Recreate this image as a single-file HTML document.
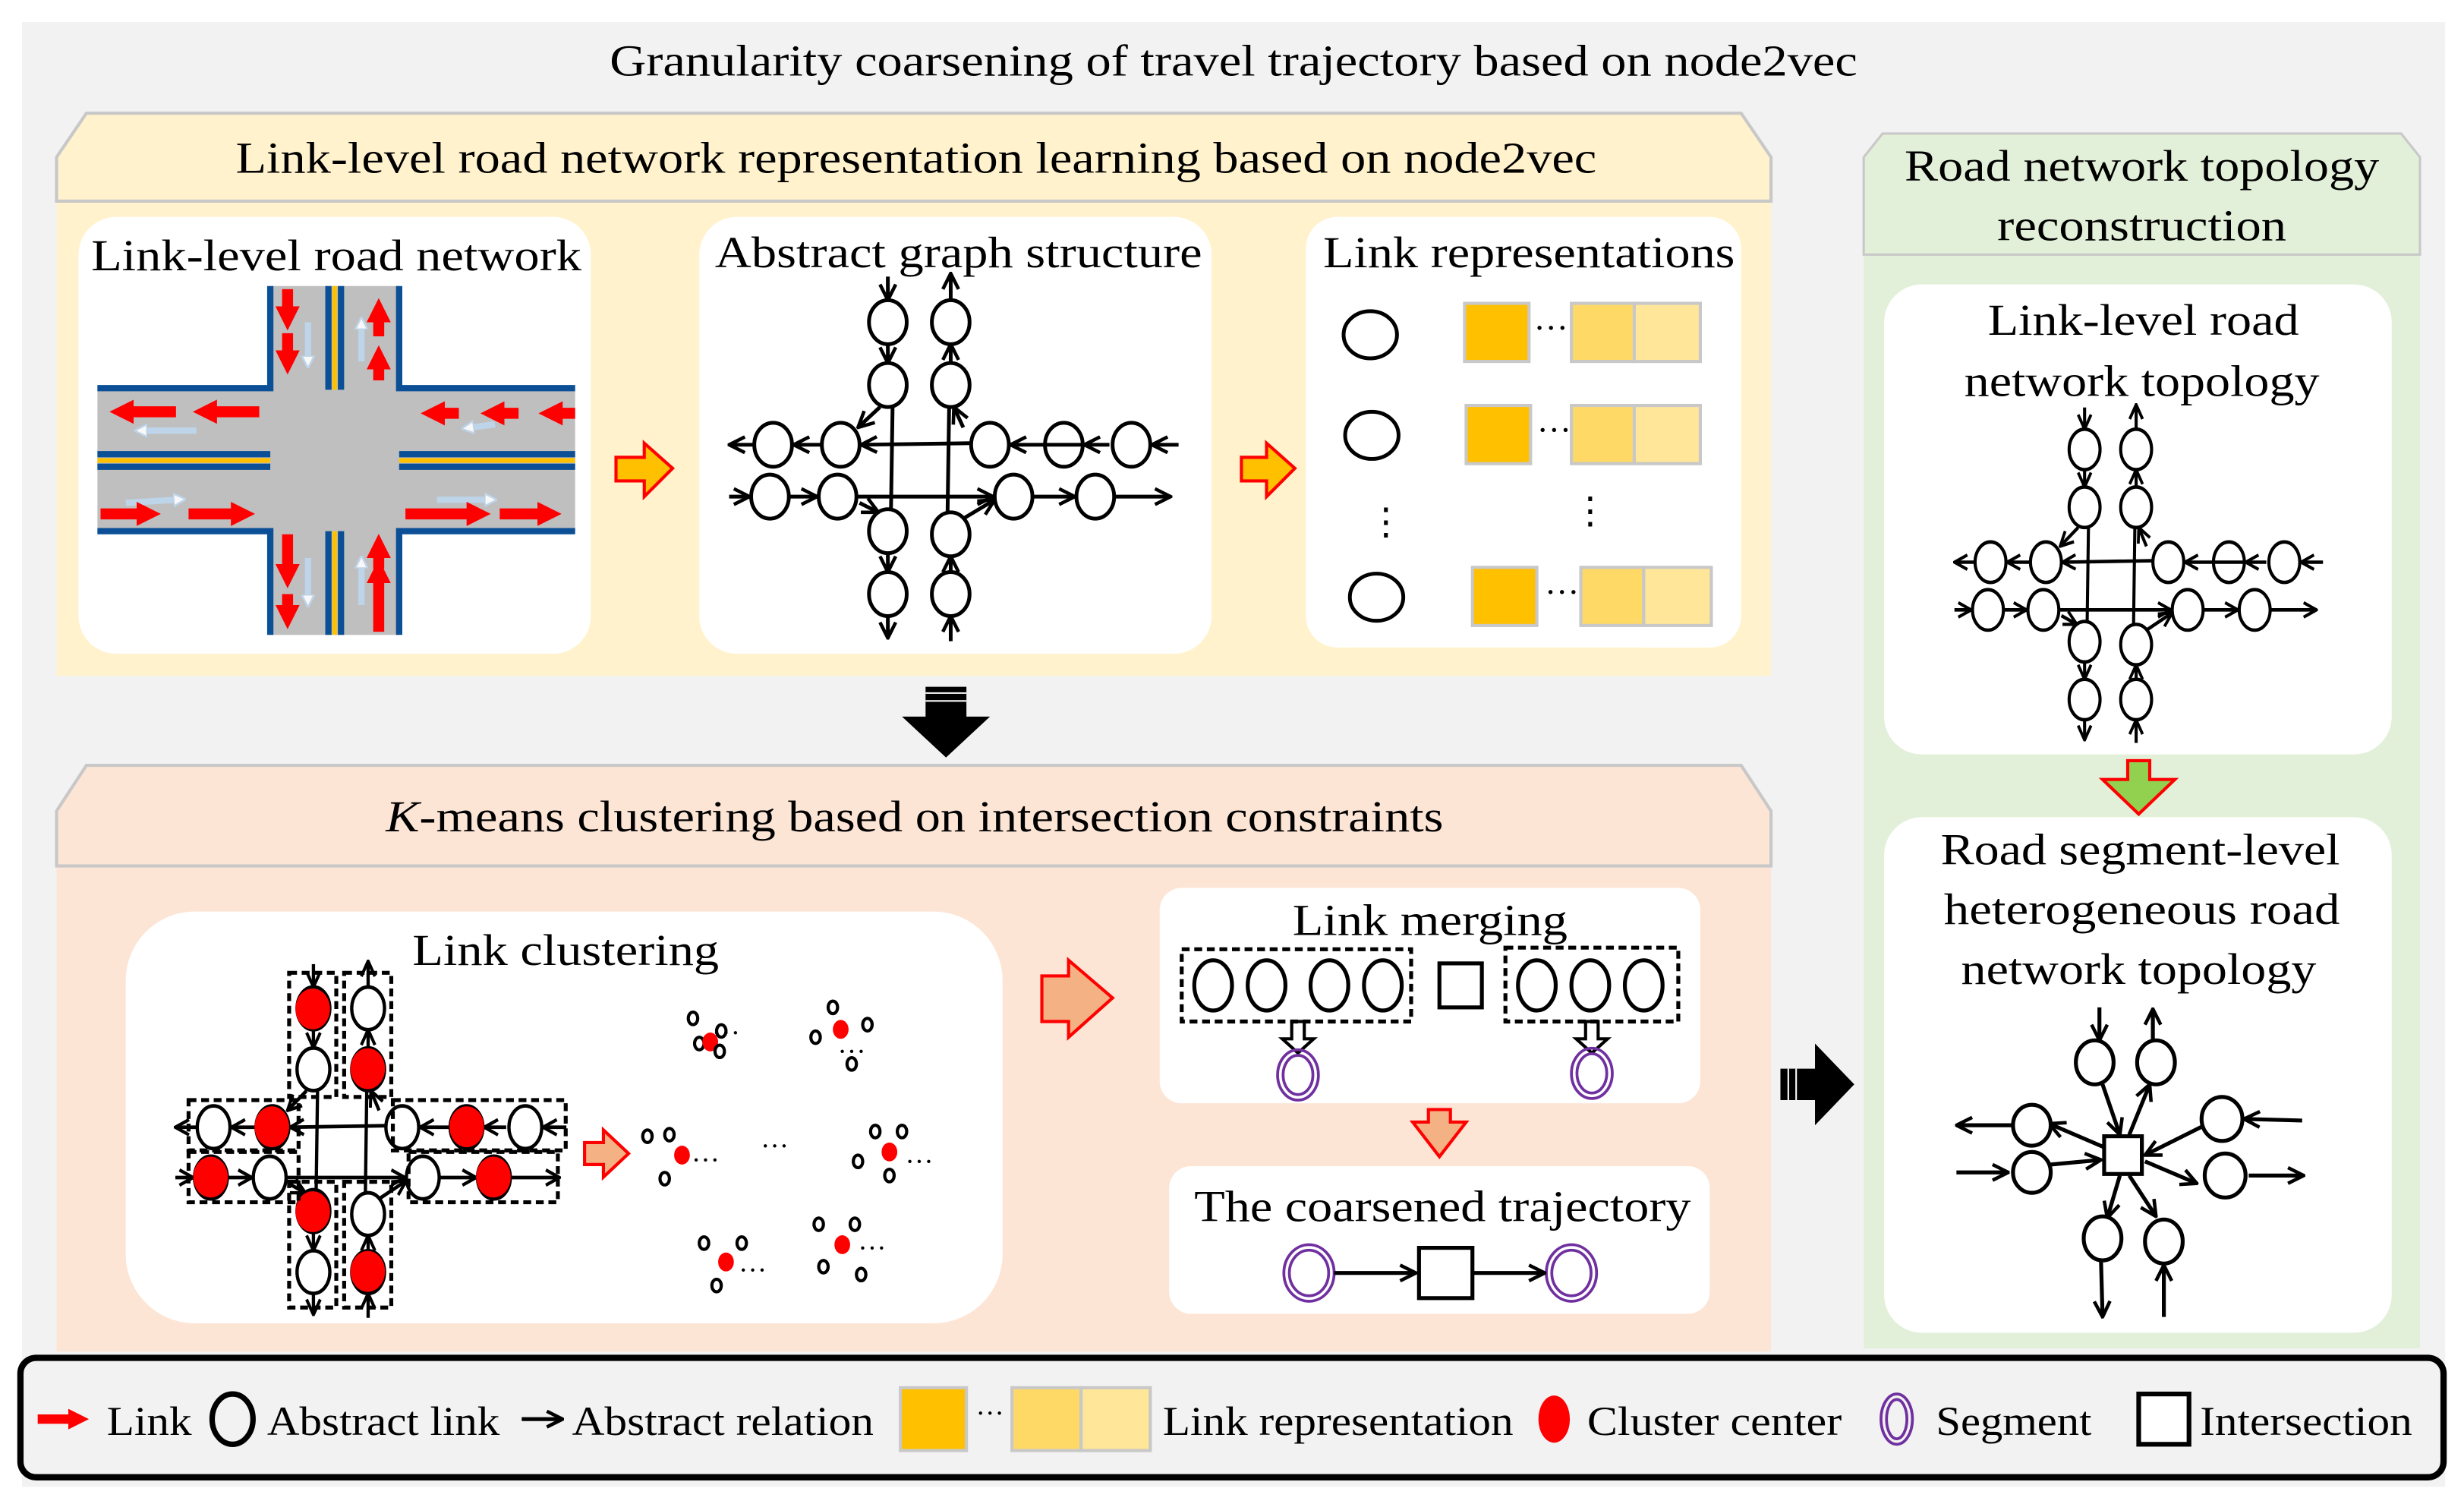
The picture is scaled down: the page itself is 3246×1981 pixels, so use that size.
<!DOCTYPE html>
<html><head><meta charset="utf-8"><style>
html,body{margin:0;padding:0;background:#fff;}
svg{display:block;}
text{font-family:"Liberation Serif",serif;fill:#000;}
</style></head><body>
<svg xmlns="http://www.w3.org/2000/svg" width="3246" height="1981" viewBox="0 0 1568 957" preserveAspectRatio="none">
<defs>
<marker id="oa" viewBox="0 0 12 12" refX="11" refY="6" markerWidth="12" markerHeight="12" markerUnits="userSpaceOnUse" orient="auto"><path d="M1,1 L11,6 L1,11" fill="none" stroke="#000" stroke-width="2.2"/></marker>
<marker id="ra" viewBox="0 0 10 10" refX="2" refY="5" markerWidth="2.2" markerHeight="2.6" orient="auto"><path d="M0,0 L10,5 L0,10 z" fill="#f00"/></marker>
<marker id="wa" viewBox="0 0 10 10" refX="2" refY="5" markerWidth="2" markerHeight="2.4" orient="auto"><path d="M0,0 L10,5 L0,10 z" fill="#fff" stroke="#bdd7ee" stroke-width="1.5"/></marker>
<g id="graph" fill="none" stroke="#000" stroke-width="2.4">
 <g fill="#fff">
 <ellipse cx="565" cy="205" rx="12" ry="14"/><ellipse cx="565" cy="245" rx="12" ry="14"/>
 <ellipse cx="605" cy="205" rx="12" ry="14"/><ellipse cx="605" cy="245" rx="12" ry="14"/>
 <ellipse cx="492" cy="283" rx="12" ry="14"/><ellipse cx="535" cy="283" rx="12" ry="14"/>
 <ellipse cx="630" cy="283" rx="12" ry="14"/><ellipse cx="677" cy="283" rx="12" ry="14"/><ellipse cx="720" cy="283" rx="12" ry="14"/>
 <ellipse cx="490" cy="316" rx="12" ry="14"/><ellipse cx="533" cy="316" rx="12" ry="14"/>
 <ellipse cx="645" cy="316" rx="12" ry="14"/><ellipse cx="697" cy="316" rx="12" ry="14"/>
 <ellipse cx="565" cy="338" rx="12" ry="14"/><ellipse cx="565" cy="378" rx="12" ry="14"/>
 <ellipse cx="605" cy="340" rx="12" ry="14"/><ellipse cx="605" cy="378" rx="12" ry="14"/>
 </g>
 <line x1="565" y1="176" x2="565" y2="191" marker-end="url(#oa)"/>
 <line x1="565" y1="219" x2="565" y2="231" marker-end="url(#oa)"/>
 <line x1="605" y1="231" x2="605" y2="219" marker-end="url(#oa)"/>
 <line x1="605" y1="191" x2="605" y2="174" marker-end="url(#oa)"/>
 <line x1="560" y1="259" x2="546" y2="272" marker-end="url(#oa)"/>
 <line x1="568" y1="259" x2="567" y2="324"/>
 <line x1="604" y1="259" x2="603" y2="326"/>
 <line x1="613" y1="272" x2="607" y2="259" marker-end="url(#oa)"/>
 <line x1="479" y1="283" x2="464" y2="283" marker-end="url(#oa)"/>
 <line x1="522" y1="283" x2="505" y2="283" marker-end="url(#oa)"/>
 <line x1="617" y1="282" x2="548" y2="283" marker-end="url(#oa)"/>
 <line x1="750" y1="283" x2="733" y2="283" marker-end="url(#oa)"/>
 <line x1="664" y1="283" x2="690" y2="283" marker-start="none"/>
 <line x1="706" y1="283" x2="690" y2="283" marker-end="url(#oa)"/>
 <line x1="664" y1="283" x2="643" y2="283" marker-end="url(#oa)"/>
 <line x1="464" y1="316" x2="477" y2="316" marker-end="url(#oa)"/>
 <line x1="503" y1="316" x2="520" y2="316" marker-end="url(#oa)"/>
 <line x1="546" y1="316" x2="632" y2="316" marker-end="url(#oa)"/>
 <line x1="658" y1="316" x2="684" y2="316" marker-end="url(#oa)"/>
 <line x1="710" y1="316" x2="745" y2="316" marker-end="url(#oa)"/>
 <line x1="547" y1="320" x2="559" y2="326" marker-end="url(#oa)"/>
 <line x1="565" y1="352" x2="565" y2="364" marker-end="url(#oa)"/>
 <line x1="565" y1="392" x2="565" y2="406" marker-end="url(#oa)"/>
 <line x1="605" y1="364" x2="605" y2="354" marker-end="url(#oa)"/>
 <line x1="605" y1="408" x2="605" y2="392" marker-end="url(#oa)"/>
 <line x1="613" y1="330" x2="633" y2="318" marker-end="url(#oa)"/>
</g>
<g id="dots" fill="#fff" stroke="#000" stroke-width="2">
 <ellipse cx="0" cy="0" rx="3" ry="4"/><ellipse cx="18" cy="8" rx="3" ry="4"/><ellipse cx="4" cy="16" rx="3" ry="4"/>
</g>
</defs>

<!-- background -->
<rect x="14" y="14" width="1542" height="932" fill="#f2f2f2"/>
<text x="785" y="48" font-size="28" text-anchor="middle" textLength="794" lengthAdjust="spacingAndGlyphs">Granularity coarsening of travel trajectory based on node2vec</text>

<!-- yellow panel -->
<rect x="36" y="128" width="1091" height="302" fill="#fff2cc"/>
<polygon points="36,128 36,100 55,72 1108,72 1127,100 1127,128" fill="#fff2cc" stroke="#c8c8c8" stroke-width="2"/>
<text x="583" y="110" font-size="28" text-anchor="middle" textLength="866" lengthAdjust="spacingAndGlyphs">Link-level road network representation learning based on node2vec</text>
<rect x="50" y="138" width="326" height="278" rx="24" fill="#fff"/>
<rect x="445" y="138" width="326" height="278" rx="24" fill="#fff"/>
<rect x="831" y="138" width="277" height="274" rx="20" fill="#fff"/>
<text x="214" y="172" font-size="28" text-anchor="middle" textLength="312" lengthAdjust="spacingAndGlyphs">Link-level road network</text>
<text x="610" y="170" font-size="28" text-anchor="middle" textLength="310" lengthAdjust="spacingAndGlyphs">Abstract graph structure</text>
<text x="973" y="170" font-size="28" text-anchor="middle" textLength="262" lengthAdjust="spacingAndGlyphs">Link representations</text>

<!-- road network -->
<rect x="62" y="246" width="304" height="93" fill="#bfbfbf"/>
<rect x="172" y="182" width="82" height="222" fill="#bfbfbf"/>
<g stroke="#0b4f96" stroke-width="4" fill="none">
 <path d="M62,247 H172 V182"/><path d="M254,182 V247 H366"/>
 <path d="M62,338 H172 V404"/><path d="M254,404 V338 H366"/>
 <path d="M62,289 H172 M62,297 H172 M254,289 H366 M254,297 H366"/>
 <path d="M209,182 V248 M217,182 V248 M209,338 V404 M217,338 V404"/>
</g>
<g stroke="#ffc000" stroke-width="3">
 <path d="M62,293 H172 M254,293 H366 M213,182 V248 M213,338 V404"/>
</g>
<g stroke="#bdd7ee" stroke-width="4" fill="none" opacity="0.9">
 <line x1="125" y1="274" x2="92" y2="274" marker-end="url(#wa)"/>
 <line x1="315" y1="270" x2="300" y2="272" marker-end="url(#wa)"/>
 <line x1="80" y1="320" x2="112" y2="318" marker-end="url(#wa)"/>
 <line x1="278" y1="318" x2="310" y2="318" marker-end="url(#wa)"/>
 <line x1="196" y1="205" x2="196" y2="228" marker-end="url(#wa)"/>
 <line x1="230" y1="230" x2="230" y2="208" marker-end="url(#wa)"/>
 <line x1="196" y1="355" x2="196" y2="380" marker-end="url(#wa)"/>
 <line x1="230" y1="385" x2="230" y2="360" marker-end="url(#wa)"/>
</g>
<g stroke="#f00" stroke-width="7" fill="none">
 <line x1="112" y1="262" x2="82" y2="262" marker-end="url(#ra)"/>
 <line x1="165" y1="262" x2="135" y2="262" marker-end="url(#ra)"/>
 <line x1="366" y1="263" x2="355" y2="263" marker-end="url(#ra)"/>
 <line x1="330" y1="263" x2="318" y2="263" marker-end="url(#ra)"/>
 <line x1="292" y1="263" x2="280" y2="263" marker-end="url(#ra)"/>
 <line x1="64" y1="327" x2="90" y2="327" marker-end="url(#ra)"/>
 <line x1="120" y1="327" x2="150" y2="327" marker-end="url(#ra)"/>
 <line x1="258" y1="327" x2="300" y2="327" marker-end="url(#ra)"/>
 <line x1="318" y1="327" x2="345" y2="327" marker-end="url(#ra)"/>
 <line x1="183" y1="184" x2="183" y2="198" marker-end="url(#ra)"/>
 <line x1="183" y1="212" x2="183" y2="226" marker-end="url(#ra)"/>
 <line x1="241" y1="242" x2="241" y2="232" marker-end="url(#ra)"/>
 <line x1="241" y1="214" x2="241" y2="202" marker-end="url(#ra)"/>
 <line x1="183" y1="340" x2="183" y2="362" marker-end="url(#ra)"/>
 <line x1="183" y1="378" x2="183" y2="388" marker-end="url(#ra)"/>
 <line x1="241" y1="402" x2="241" y2="368" marker-end="url(#ra)"/>
 <line x1="241" y1="362" x2="241" y2="352" marker-end="url(#ra)"/>
</g>

<!-- abstract graph -->
<use href="#graph"/>

<!-- orange arrows in yellow -->
<polygon points="392,291 410,291 410,282 428,298 410,316 410,306 392,306" fill="#ffc000" stroke="#f00" stroke-width="2"/>
<polygon points="790,291 806,291 806,282 824,298 806,316 806,306 790,306" fill="#ffc000" stroke="#f00" stroke-width="2"/>

<!-- link representations -->
<g fill="#fff" stroke="#000" stroke-width="2.4">
 <ellipse cx="872" cy="213" rx="17" ry="15"/><ellipse cx="873" cy="277" rx="17" ry="15"/><ellipse cx="876" cy="380" rx="17" ry="15"/>
</g>
<g stroke="#c8c8c8" stroke-width="2">
 <rect x="932" y="193" width="41" height="37" fill="#ffc000"/><rect x="1000" y="193" width="40" height="37" fill="#ffd966"/><rect x="1040" y="193" width="42" height="37" fill="#ffe699"/>
 <rect x="933" y="258" width="41" height="37" fill="#ffc000"/><rect x="1000" y="258" width="40" height="37" fill="#ffd966"/><rect x="1040" y="258" width="42" height="37" fill="#ffe699"/>
 <rect x="937" y="361" width="41" height="37" fill="#ffc000"/><rect x="1006" y="361" width="40" height="37" fill="#ffd966"/><rect x="1046" y="361" width="43" height="37" fill="#ffe699"/>
</g>
<text x="976" y="216" font-size="22">···</text>
<text x="978" y="281" font-size="22">···</text>
<text x="983" y="384" font-size="22">···</text>
<text x="870" y="340" font-size="24">⋮</text>
<text x="1000" y="333" font-size="24">⋮</text>

<!-- black down arrow -->
<polygon points="589,437 615,437 615,456 630,456 602,482 574,456 589,456" fill="#000"/>
<line x1="589" y1="441" x2="615" y2="441" stroke="#fff" stroke-width="1"/>
<line x1="589" y1="446" x2="615" y2="446" stroke="#fff" stroke-width="1"/>

<!-- orange panel -->
<rect x="36" y="551" width="1091" height="309" fill="#fde5d6"/>
<polygon points="36,551 36,516 55,487 1108,487 1127,516 1127,551" fill="#fde5d6" stroke="#c8c8c8" stroke-width="2"/>
<text x="582" y="529" font-size="28" text-anchor="middle" textLength="673" lengthAdjust="spacingAndGlyphs"><tspan font-style="italic">K</tspan>-means clustering based on intersection constraints</text>
<rect x="80" y="580" width="558" height="262" rx="44" fill="#fff"/>
<rect x="738" y="565" width="344" height="137" rx="14" fill="#fff"/>
<rect x="744" y="742" width="344" height="94" rx="14" fill="#fff"/>
<text x="360" y="614" font-size="28" text-anchor="middle" textLength="195" lengthAdjust="spacingAndGlyphs">Link clustering</text>
<text x="910" y="595" font-size="28" text-anchor="middle" textLength="175" lengthAdjust="spacingAndGlyphs">Link merging</text>
<text x="918" y="777" font-size="28" text-anchor="middle" textLength="316" lengthAdjust="spacingAndGlyphs">The coarsened trajectory</text>

<!-- clustering graph -->
<g transform="translate(236,726) scale(0.87,0.97) translate(-607,-292)"><use href="#graph"/></g>
<g fill="#f00">
 <ellipse cx="199" cy="642" rx="11" ry="13"/><ellipse cx="234" cy="680" rx="11" ry="13"/>
 <ellipse cx="173" cy="717" rx="11" ry="13"/><ellipse cx="297" cy="717" rx="11" ry="13"/>
 <ellipse cx="134" cy="749" rx="11" ry="13"/><ellipse cx="314" cy="749" rx="11" ry="13"/>
 <ellipse cx="199" cy="771" rx="11" ry="13"/><ellipse cx="234" cy="809" rx="11" ry="13"/>
</g>
<g fill="none" stroke="#000" stroke-width="2.5" stroke-dasharray="5,3">
 <rect x="184" y="619" width="30" height="79"/><rect x="219" y="619" width="30" height="79"/>
 <rect x="120" y="700" width="70" height="32"/><rect x="250" y="700" width="110" height="32"/>
 <rect x="120" y="733" width="70" height="32"/><rect x="260" y="733" width="95" height="32"/>
 <rect x="184" y="752" width="30" height="80"/><rect x="219" y="752" width="30" height="80"/>
</g>
<polygon points="372,727 384,727 384,719 400,734 384,749 384,741 372,741" fill="#f4b183" stroke="#f00" stroke-width="2"/>
<!-- dot clusters -->
<use href="#dots" transform="translate(441,648)"/><ellipse cx="452" cy="663" rx="5" ry="6" fill="#f00"/><ellipse cx="458" cy="669" rx="3" ry="4" fill="#fff" stroke="#000" stroke-width="2"/><text x="453" y="663" font-size="18">···</text>
<g fill="#fff" stroke="#000" stroke-width="2"><ellipse cx="519" cy="660" rx="3" ry="4"/><ellipse cx="530" cy="641" rx="3" ry="4"/><ellipse cx="552" cy="652" rx="3" ry="4"/><ellipse cx="542" cy="677" rx="3" ry="4"/></g><ellipse cx="535" cy="655" rx="5" ry="6" fill="#f00"/><text x="533" y="675" font-size="18">···</text>
<g fill="#fff" stroke="#000" stroke-width="2"><ellipse cx="412" cy="723" rx="3" ry="4"/><ellipse cx="426" cy="722" rx="3" ry="4"/><ellipse cx="423" cy="750" rx="3" ry="4"/><ellipse cx="557" cy="720" rx="3" ry="4"/><ellipse cx="574" cy="720" rx="3" ry="4"/><ellipse cx="546" cy="739" rx="3" ry="4"/><ellipse cx="566" cy="748" rx="3" ry="4"/></g>
<ellipse cx="434" cy="735" rx="5" ry="6" fill="#f00"/><ellipse cx="566" cy="733" rx="5" ry="6" fill="#f00"/>
<text x="440" y="744" font-size="18">···</text><text x="484" y="735" font-size="18">···</text><text x="576" y="745" font-size="18">···</text>
<g fill="#fff" stroke="#000" stroke-width="2"><ellipse cx="448" cy="791" rx="3" ry="4"/><ellipse cx="472" cy="791" rx="3" ry="4"/><ellipse cx="456" cy="818" rx="3" ry="4"/><ellipse cx="521" cy="779" rx="3" ry="4"/><ellipse cx="544" cy="779" rx="3" ry="4"/><ellipse cx="524" cy="806" rx="3" ry="4"/><ellipse cx="548" cy="811" rx="3" ry="4"/></g>
<ellipse cx="462" cy="803" rx="5" ry="6" fill="#f00"/><ellipse cx="536" cy="792" rx="5" ry="6" fill="#f00"/>
<text x="470" y="814" font-size="18">···</text><text x="546" y="800" font-size="18">···</text>

<polygon points="663,621 680,621 680,611 708,635 680,660 680,650 663,650" fill="#f4b183" stroke="#f00" stroke-width="2"/>

<!-- link merging -->
<g fill="none" stroke="#000" stroke-width="2.5">
 <rect x="752" y="604" width="146" height="46" stroke-dasharray="5,3"/>
 <rect x="958" y="603" width="110" height="47" stroke-dasharray="5,3"/>
 <ellipse cx="772" cy="627" rx="12" ry="16"/><ellipse cx="806" cy="627" rx="12" ry="16"/><ellipse cx="846" cy="627" rx="12" ry="16"/><ellipse cx="880" cy="627" rx="12" ry="16"/>
 <ellipse cx="978" cy="627" rx="12" ry="16"/><ellipse cx="1012" cy="627" rx="12" ry="16"/><ellipse cx="1046" cy="627" rx="12" ry="16"/>
 <rect x="916" y="613" width="27" height="28"/>
 <polygon points="822,650 830,650 830,661 836,661 826,670 816,661 822,661" stroke-width="2"/>
 <polygon points="1009,650 1017,650 1017,661 1023,661 1013,670 1003,661 1009,661" stroke-width="2"/>
</g>
<g fill="none" stroke="#7030a0" stroke-width="1.8">
 <ellipse cx="826" cy="684" rx="13" ry="16"/><ellipse cx="826" cy="684" rx="9.5" ry="12.5"/>
 <ellipse cx="1013" cy="683" rx="13" ry="16"/><ellipse cx="1013" cy="683" rx="9.5" ry="12.5"/>
 <ellipse cx="833" cy="810" rx="16" ry="18"/><ellipse cx="833" cy="810" rx="12.5" ry="14.5"/>
 <ellipse cx="1000" cy="810" rx="16" ry="18"/><ellipse cx="1000" cy="810" rx="12.5" ry="14.5"/>
</g>
<polygon points="909,706 923,706 923,714 933,714 916,736 899,714 909,714" fill="#f4b183" stroke="#f00" stroke-width="2"/>
<g fill="none" stroke="#000" stroke-width="2.5">
 <rect x="903" y="794" width="34" height="32" fill="#fff"/>
 <line x1="849" y1="810" x2="901" y2="810" marker-end="url(#oa)"/>
 <line x1="937" y1="810" x2="983" y2="810" marker-end="url(#oa)"/>
</g>

<!-- black right arrow -->
<polygon points="1133,680 1155,680 1155,664 1180,690 1155,716 1155,700 1133,700" fill="#000"/>
<line x1="1138" y1="680" x2="1138" y2="700" stroke="#fff" stroke-width="1"/>
<line x1="1143" y1="680" x2="1143" y2="700" stroke="#fff" stroke-width="1"/>

<!-- green panel -->
<rect x="1186" y="162" width="354" height="696" fill="#e2f0d9"/>
<polygon points="1186,162 1186,100 1198,85 1528,85 1540,100 1540,162" fill="#e2f0d9" stroke="#c8c8c8" stroke-width="1.5"/>
<text x="1363" y="115" font-size="28" text-anchor="middle" textLength="302" lengthAdjust="spacingAndGlyphs">Road network topology</text>
<text x="1363" y="153" font-size="28" text-anchor="middle" textLength="184" lengthAdjust="spacingAndGlyphs">reconstruction</text>
<rect x="1199" y="181" width="323" height="299" rx="24" fill="#fff"/>
<rect x="1199" y="520" width="323" height="328" rx="24" fill="#fff"/>
<text x="1364" y="213" font-size="28" text-anchor="middle" textLength="198" lengthAdjust="spacingAndGlyphs">Link-level road</text>
<text x="1363" y="252" font-size="28" text-anchor="middle" textLength="226" lengthAdjust="spacingAndGlyphs">network topology</text>
<g transform="translate(1361,366) scale(0.82,0.92) translate(-607,-292)"><use href="#graph"/></g>
<polygon points="1354,484 1368,484 1368,496 1384,496 1361,518 1338,496 1354,496" fill="#92d050" stroke="#f00" stroke-width="2"/>
<text x="1362" y="550" font-size="28" text-anchor="middle" textLength="254" lengthAdjust="spacingAndGlyphs">Road segment-level</text>
<text x="1363" y="588" font-size="28" text-anchor="middle" textLength="252" lengthAdjust="spacingAndGlyphs">heterogeneous road</text>
<text x="1361" y="626" font-size="28" text-anchor="middle" textLength="226" lengthAdjust="spacingAndGlyphs">network topology</text>
<g fill="none" stroke="#000" stroke-width="2.5">
 <rect x="1339" y="723" width="24" height="24" fill="#fff"/>
 <line x1="1336" y1="641" x2="1336" y2="662" marker-end="url(#oa)"/>
 <line x1="1370" y1="663" x2="1370" y2="642" marker-end="url(#oa)"/>
 <line x1="1338" y1="690" x2="1349" y2="722" marker-end="url(#oa)"/>
 <line x1="1355" y1="722" x2="1368" y2="690" marker-end="url(#oa)"/>
 <line x1="1280" y1="716" x2="1245" y2="716" marker-end="url(#oa)"/>
 <line x1="1339" y1="730" x2="1304" y2="715" marker-end="url(#oa)"/>
 <line x1="1245" y1="746" x2="1278" y2="746" marker-end="url(#oa)"/>
 <line x1="1305" y1="741" x2="1337" y2="738" marker-end="url(#oa)"/>
 <line x1="1465" y1="713" x2="1428" y2="712" marker-end="url(#oa)"/>
 <line x1="1401" y1="717" x2="1365" y2="735" marker-end="url(#oa)"/>
 <line x1="1365" y1="739" x2="1398" y2="753" marker-end="url(#oa)"/>
 <line x1="1431" y1="748" x2="1466" y2="748" marker-end="url(#oa)"/>
 <line x1="1349" y1="748" x2="1341" y2="775" marker-end="url(#oa)"/>
 <line x1="1355" y1="748" x2="1372" y2="774" marker-end="url(#oa)"/>
 <line x1="1337" y1="802" x2="1338" y2="838" marker-end="url(#oa)"/>
 <line x1="1377" y1="838" x2="1377" y2="805" marker-end="url(#oa)"/>
 <g fill="#fff">
 <ellipse cx="1333" cy="676" rx="12" ry="14"/><ellipse cx="1372" cy="676" rx="12" ry="14"/>
 <ellipse cx="1293" cy="716" rx="12" ry="13"/><ellipse cx="1293" cy="746" rx="12" ry="13"/>
 <ellipse cx="1414" cy="712" rx="13" ry="14"/><ellipse cx="1416" cy="748" rx="13" ry="14"/>
 <ellipse cx="1338" cy="788" rx="12" ry="14"/><ellipse cx="1377" cy="790" rx="12" ry="14"/>
 </g>
</g>

<!-- legend -->
<rect x="13" y="864" width="1542" height="76" rx="10" fill="#f2f2f2" stroke="#000" stroke-width="4"/>
<line x1="24" y1="903" x2="46" y2="903" stroke="#f00" stroke-width="6" marker-end="url(#ra)"/>
<text x="68" y="913" font-size="26" textLength="54" lengthAdjust="spacingAndGlyphs">Link</text>
<ellipse cx="148" cy="903" rx="13" ry="16" fill="none" stroke="#000" stroke-width="3.5"/>
<text x="170" y="913" font-size="26" textLength="148" lengthAdjust="spacingAndGlyphs">Abstract link</text>
<line x1="332" y1="903" x2="358" y2="903" stroke="#000" stroke-width="2.5" marker-end="url(#oa)"/>
<text x="364" y="913" font-size="26" textLength="192" lengthAdjust="spacingAndGlyphs">Abstract relation</text>
<g stroke="#c8c8c8" stroke-width="2">
 <rect x="573" y="883" width="42" height="40" fill="#ffc000"/>
 <rect x="644" y="883" width="44" height="40" fill="#ffd966"/>
 <rect x="688" y="883" width="44" height="40" fill="#ffe699"/>
</g>
<text x="621" y="905" font-size="18">···</text>
<text x="740" y="913" font-size="26" textLength="223" lengthAdjust="spacingAndGlyphs">Link representation</text>
<ellipse cx="989" cy="903" rx="10" ry="15" fill="#f00"/>
<text x="1010" y="913" font-size="26" textLength="162" lengthAdjust="spacingAndGlyphs">Cluster center</text>
<ellipse cx="1207" cy="903" rx="10" ry="16" fill="none" stroke="#7030a0" stroke-width="1.8"/>
<ellipse cx="1207" cy="903" rx="6.5" ry="12.5" fill="none" stroke="#7030a0" stroke-width="1.8"/>
<text x="1232" y="913" font-size="26" textLength="99" lengthAdjust="spacingAndGlyphs">Segment</text>
<rect x="1361" y="887" width="32" height="32" fill="#fff" stroke="#000" stroke-width="3"/>
<text x="1400" y="913" font-size="26" textLength="135" lengthAdjust="spacingAndGlyphs">Intersection</text>
</svg>
</body></html>
